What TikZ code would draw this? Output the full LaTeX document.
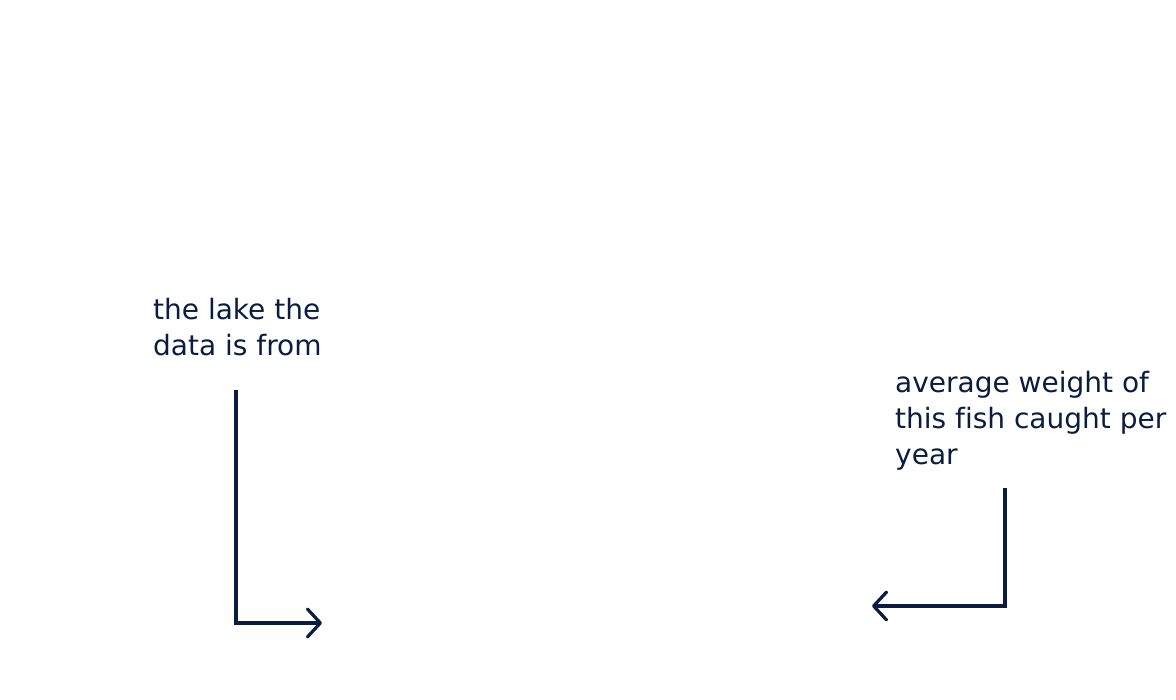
\documentclass[tikz,border=0pt]{standalone}
\usepackage{fontspec}
\setmainfont{DejaVu Sans}[Ligatures=NoCommon]
\usetikzlibrary{arrows.meta}
\definecolor{navy}{RGB}{10,29,64}

\begin{document}
\begin{tikzpicture}[x=1pt,y=-1pt,
    note/.style={anchor=north west,inner sep=0pt,align=left,text=navy,
      font=\fontsize{28}{36}\selectfont},
    pointer/.style={draw=navy,line width=3.2pt,
      -{Straight Barb[length=13pt,width=28pt,line width=3.2pt,round]}}]
  \useasboundingbox (0,0) rectangle (1176,700);
  % labels
  \node[note] (lake) at (153,298) {the lake the\\data is from};
  \node[note] (weight) at (895,371) {average weight of\\this fish caught per\\year};
  % arrows
  \coordinate (lakeStart) at (236,390);
  \coordinate (lakeEnd) at (322,623);
  \coordinate (weightStart) at (1005,488);
  \coordinate (weightEnd) at (872,606);
  \draw[pointer] (lakeStart) |- (lakeEnd);
  \draw[pointer] (weightStart) |- (weightEnd);
\end{tikzpicture}
\end{document}
